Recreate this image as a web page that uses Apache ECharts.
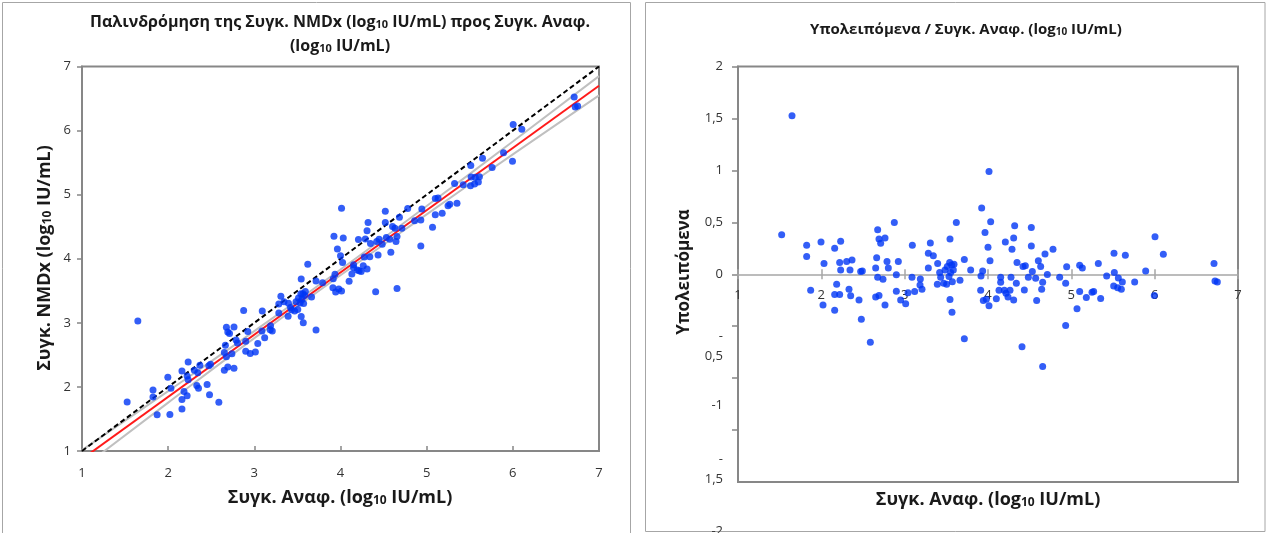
<!DOCTYPE html>
<html><head><meta charset="utf-8">
<script src="https://cdn.jsdelivr.net/npm/echarts@6/dist/echarts.min.js"></script>
<style>html,body{margin:0;padding:0;background:#fff}#c{width:1266px;height:533px}</style>
</head><body><div id="c"></div>
<script>
// ---- data ----
const refX = [1.648,4.012,
1.524,1.824,1.824,1.996,2.032,1.872,2.020,2.160,2.232,2.220,2.232,2.184,2.160,2.220,2.160,2.304,2.368,2.344,2.332,2.352,
2.472,2.492,2.452,2.480,2.588,2.676,2.692,2.712,2.764,2.664,2.652,2.676,2.740,2.652,2.692,2.764,2.876,2.788,2.804,2.924,
2.900,2.900,2.952,3.012,3.040,3.092,3.088,3.120,3.188,3.184,3.208,3.308,3.284,3.344,3.284,3.396,3.420,3.432,3.392,3.468,
3.504,3.484,3.512,3.544,3.540,3.564,3.592,3.584,3.552,3.532,3.572,3.664,3.544,3.568,3.620,3.716,3.792,3.716,3.924,3.964,
4.000,4.024,3.936,3.916,3.912,3.944,3.980,4.012,
4.032,4.320,4.520,4.208,4.308,4.288,4.520,4.348,4.420,4.448,4.532,4.604,4.632,4.684,4.780,4.712,4.656,4.644,4.584,4.572,
4.484,4.436,4.340,4.276,4.152,4.152,4.132,4.196,4.264,4.216,4.240,4.100,4.308,4.408,4.656,4.860,4.932,4.944,5.100,5.132,
5.100,5.180,5.248,5.268,5.352,5.068,4.932,5.324,5.424,5.512,5.516,5.564,5.612,5.508,5.556,5.600,5.648,5.760,5.892,6.004,
6.104,5.996,6.712,6.724,6.752];
const nmdxY = [3.029,4.789,
1.764,1.953,1.844,2.152,1.979,1.567,1.569,2.250,2.387,2.171,2.112,1.928,1.804,1.863,1.654,2.262,2.340,2.221,2.023,1.979,
2.329,2.355,2.037,1.878,1.762,2.930,2.857,2.834,2.936,2.650,2.539,2.472,2.516,2.260,2.312,2.292,3.193,2.732,2.687,2.864,
2.713,2.556,2.522,2.543,2.676,3.184,2.872,2.766,2.954,2.892,2.874,3.416,3.294,3.329,3.153,3.304,3.240,3.206,3.101,3.183,
3.209,3.328,3.387,3.684,3.452,3.454,3.487,3.425,3.368,3.311,3.300,3.403,3.100,3.003,3.915,3.652,3.627,2.889,4.351,4.153,
4.047,3.941,3.757,3.689,3.548,3.480,3.528,3.495,
4.324,4.566,4.741,4.300,4.435,4.307,4.564,4.237,4.269,4.305,4.330,4.504,4.475,4.647,4.784,4.475,4.347,4.268,4.101,4.304,
4.228,4.059,4.030,4.026,3.906,3.858,3.761,3.823,3.889,3.814,3.802,3.647,3.839,3.484,3.536,4.593,4.605,4.775,4.942,4.947,
4.688,4.709,4.826,4.851,4.866,4.491,4.198,5.176,5.154,5.457,5.275,5.271,5.278,5.139,5.167,5.197,5.570,5.422,5.656,6.095,
6.022,5.520,6.523,6.368,6.385];
const residuals = [1.526,0.990,
0.381,0.279,0.170,0.311,0.103,-0.154,-0.295,0.250,0.317,0.112,0.042,-0.096,-0.196,-0.196,-0.346,0.122,0.138,0.042,-0.144,-0.208,
0.026,0.032,-0.247,-0.433,-0.654,0.429,0.340,0.298,0.349,0.160,0.061,-0.029,-0.048,-0.218,-0.205,-0.295,0.497,0.122,0.061,0.122,
-0.006,-0.163,-0.247,-0.285,-0.179,0.279,-0.029,-0.167,-0.045,-0.103,-0.144,0.301,0.202,0.179,0.061,0.103,0.016,-0.029,-0.096,-0.087,
-0.096,0.042,0.074,0.340,0.112,0.090,0.096,0.042,0.016,-0.022,-0.071,-0.058,-0.244,-0.365,0.497,0.141,0.042,-0.622,0.638,0.401,
0.260,0.131,0.032,-0.016,-0.154,-0.253,-0.240,-0.304,
0.506,0.468,0.449,0.311,0.349,0.240,0.272,0.112,0.074,0.083,0.026,0.131,0.074,0.196,0.240,-0.003,-0.077,-0.144,-0.253,-0.038,
-0.029,-0.151,-0.087,-0.029,-0.029,-0.077,-0.154,-0.154,-0.154,-0.183,-0.218,-0.237,-0.247,-0.699,-0.888,-0.029,-0.087,0.071,0.087,0.061,
-0.167,-0.224,-0.173,-0.167,-0.234,-0.333,-0.494,0.103,-0.016,0.202,0.016,-0.035,-0.074,-0.112,-0.131,-0.144,0.183,-0.074,0.032,0.362,
0.192,-0.205,0.103,-0.064,-0.074];

const lineEndsX = [1, 7];
const identityY = [1, 7];
const fitY = [0.874, 6.700];
const bandX = [1, 2, 3, 4, 5, 6, 7];
const bandUpper = [1.014, 1.935, 2.871, 3.832, 4.823, 5.829, 6.850];
const bandLower = [0.734, 1.755, 2.761, 3.742, 4.693, 5.629, 6.550];

const residTickValues = [2, 1.5, 1, 0.5, 0, -0.5, -1, -1.5, -2];
const residTickLabels = ['2', '1,5', '1', '0,5', '0', '-\n0,5', '-1', '-\n1,5', '-2'];
const residTickDrop = [0, 0, 0, 0, 0, 20, 27, 39, 49];   // how far below its tick each label sits

const titleLeft1 = 'Παλινδρόμηση της Συγκ. NMDx (log{s|10} IU/mL) προς Συγκ. Αναφ.';
const titleLeft2 = '(log{s|10} IU/mL)';
const titleRight = 'Υπολειπόμενα / Συγκ. Αναφ. (log{s|10} IU/mL)';
const nameX = 'Συγκ. Αναφ. (log{s|10} IU/mL)';
const nameYLeft = 'Συγκ. NMDx (log{s|10} IU/mL)';
const nameYRight = 'Υπολειπόμενα';

// ---- chart ----
const FONT = '"Open Sans", "Noto Sans", sans-serif';
const BLUE = '#0036f5';
const AXIS = '#878787';
const LABEL = '#333333';
const chart = echarts.init(document.getElementById('c'), null, {renderer: 'canvas'});

function txt(text, x, y, size, rot) {
  return {
    type: 'text', x: x, y: y, rotation: rot || 0, z: 10,
    style: {
      text: text, fontSize: size, fontWeight: 'bold', fontFamily: FONT, fill: '#1a1a1a',
      align: 'center', verticalAlign: 'middle',
      rich: {s: {fontSize: Math.round(size * 0.66), fontWeight: 'bold', fontFamily: FONT, fill: '#1a1a1a', verticalAlign: 'bottom'}}
    }
  };
}

const residRich = {n: {lineHeight: 20, fontSize: 13, fontFamily: FONT, color: LABEL, align: 'right'}};
residTickDrop.forEach(function (d) {
  if (d) residRich['g' + d] = {lineHeight: 2 * d, height: 2 * d, fontSize: 2, fontFamily: FONT, color: 'rgba(0,0,0,0)', align: 'right'};
});
function residLabel(v) {
  const i = residTickValues.findIndex(function (t) { return Math.abs(t - v) < 1e-9; });
  if (i < 0) return '';
  const lines = residTickLabels[i].split('\n');
  const d = residTickDrop[i];
  if (!d) return lines.join('\n');
  return '{g' + d + '| }\n' + lines.map(function (l) { return '{n|' + l + '}'; }).join('\n');
}
const RES_MIN = residTickValues[residTickValues.length - 1];

const baseLabel = {fontSize: 13, fontFamily: FONT, color: LABEL};
const ZERO_OFFSET = -207.75;

const option = {
  animation: false,
  backgroundColor: '#fff',
  grid: [
    {left: 82, right: 667, top: 66.5, bottom: 82, outerBoundsMode: 'none', containLabel: false,
      show: true, borderColor: AXIS, borderWidth: 2, backgroundColor: 'transparent'},
    {left: 738, right: 28, top: 66.5, bottom: 51, outerBoundsMode: 'none', containLabel: false,
      show: true, borderColor: AXIS, borderWidth: 2, backgroundColor: 'transparent'}
  ],
  xAxis: [
    {gridIndex: 0, type: 'value', min: 1, max: 7, interval: 1,
      axisLine: {lineStyle: {color: AXIS, width: 2}},
      axisTick: {inside: true, length: 5, lineStyle: {color: AXIS, width: 1.5}},
      axisLabel: Object.assign({margin: 16}, baseLabel), splitLine: {show: false}},
    {gridIndex: 1, type: 'value', min: 1, max: 7, interval: 1, position: 'bottom', offset: ZERO_OFFSET,
      axisLine: {onZero: false, lineStyle: {color: '#a6a6a6', width: 1.5}},
      axisTick: {length: 5, lineStyle: {color: '#a6a6a6', width: 1.5}},
      axisLabel: Object.assign({margin: 15}, baseLabel), splitLine: {show: false}},
    {gridIndex: 1, type: 'value', min: 1, max: 7, interval: 1, position: 'bottom', offset: ZERO_OFFSET,
      axisLine: {show: false, onZero: false},
      axisTick: {inside: true, length: 5, lineStyle: {color: '#a6a6a6', width: 1.5}},
      axisLabel: {show: false}, splitLine: {show: false}}
  ],
  yAxis: [
    {gridIndex: 0, type: 'value', min: 1, max: 7, interval: 1,
      axisLine: {lineStyle: {color: AXIS, width: 2}},
      axisTick: {length: 5, lineStyle: {color: AXIS, width: 1.5}},
      axisLabel: Object.assign({margin: 11}, baseLabel), splitLine: {show: false}},
    {gridIndex: 1, type: 'value', position: 'left', min: -2, max: 2, interval: 0.5,
      axisLine: {onZero: false, lineStyle: {color: AXIS, width: 2}},
      axisTick: {length: 6, lineStyle: {color: AXIS, width: 1.5}},
      axisLabel: Object.assign({margin: 15, showMinLabel: false, showMaxLabel: true, rich: residRich,
        formatter: function (v) { return Math.abs(v - RES_MIN) < 1e-9 ? '' : residLabel(v); }}, baseLabel),
      splitLine: {show: false}},
    {gridIndex: 1, type: 'value', position: 'left', min: -2, max: 2, interval: 0.5,
      axisLine: {show: false, onZero: false}, axisTick: {show: false},
      axisLabel: Object.assign({margin: 15, showMinLabel: true, showMaxLabel: false, rich: residRich,
        formatter: function (v) { return Math.abs(v - RES_MIN) < 1e-9 ? residLabel(v) : ''; }}, baseLabel),
      splitLine: {show: false}}
  ],
  graphic: [
    {type: 'rect', z: 0, shape: {x: 2.5, y: 2.5, width: 628, height: 545}, style: {fill: 'none', stroke: '#a6a6a6', lineWidth: 1}},
    {type: 'rect', z: 0, shape: {x: 645.5, y: 2.5, width: 619.5, height: 529}, style: {fill: 'none', stroke: '#a6a6a6', lineWidth: 1}},
    txt(titleLeft1, 340, 22, 16),
    txt(titleLeft2, 340, 46, 16),
    txt(titleRight, 966, 30, 15),
    txt(nameX, 340, 498, 18),
    txt(nameX, 988, 500, 18),
    txt(nameYLeft, 45, 258, 18, Math.PI / 2),
    txt(nameYRight, 684, 272, 17, Math.PI / 2)
  ],
  series: [
    {type: 'line', xAxisIndex: 0, yAxisIndex: 0, z: 2, symbol: 'none', smooth: true, silent: true,
      data: bandX.map(function (x, i) { return [x, bandUpper[i]]; }),
      lineStyle: {color: '#c0c0c0', width: 2}},
    {type: 'line', xAxisIndex: 0, yAxisIndex: 0, z: 2, symbol: 'none', smooth: true, silent: true,
      data: bandX.map(function (x, i) { return [x, bandLower[i]]; }),
      lineStyle: {color: '#c0c0c0', width: 2}},
    {type: 'line', xAxisIndex: 0, yAxisIndex: 0, z: 3, symbol: 'none', silent: true,
      data: lineEndsX.map(function (x, i) { return [x, fitY[i]]; }),
      lineStyle: {color: '#ff1a1a', width: 2}},
    {type: 'line', xAxisIndex: 0, yAxisIndex: 0, z: 3, symbol: 'none', silent: true,
      data: lineEndsX.map(function (x, i) { return [x, identityY[i]]; }),
      lineStyle: {color: '#000', width: 2, type: [5, 3]}},
    {type: 'scatter', xAxisIndex: 0, yAxisIndex: 0, z: 4, symbolSize: 7,
      data: refX.map(function (x, i) { return [x, nmdxY[i]]; }),
      itemStyle: {color: BLUE}},
    {type: 'scatter', xAxisIndex: 1, yAxisIndex: 1, z: 4, symbolSize: 7,
      data: refX.map(function (x, i) { return [x, residuals[i]]; }),
      itemStyle: {color: BLUE}}
  ]
};
chart.setOption(option);
</script>
</body></html>
